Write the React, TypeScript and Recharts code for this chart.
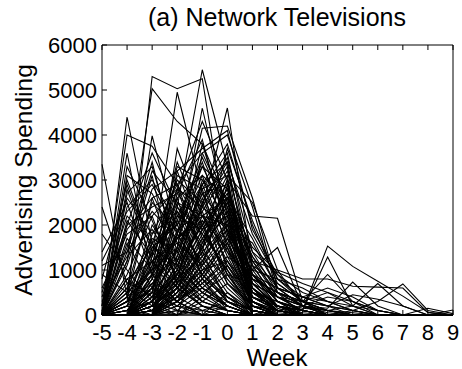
import { LineChart, Line, XAxis, YAxis } from 'recharts';

// week index runs -5 .. 9
const weeks = [-5, -4, -3, -2, -1, 0, 1, 2, 3, 4, 5, 6, 7, 8, 9];
const yTicks = [0, 1000, 2000, 3000, 4000, 5000, 6000];

// the tall outliers
const highPeaks = [
    [0, 300, 5300, 5030, 5250, 1800, 400, 100, 0, 0, 0, 0, 0, 0, 0],
    [0, 0, 900, 2400, 5450, 3300, 900, 200, 50, 0, 0, 0, 0, 0, 0],
    [0, 1200, 5030, 4300, 3800, 2500, 700, 150, 0, 0, 0, 0, 0, 0, 0],
    [0, 0, 1300, 4950, 2700, 1400, 300, 50, 0, 0, 0, 0, 0, 0, 0],
    [0, 4400, 1600, 700, 300, 100, 0, 0, 0, 0, 0, 0, 0, 0, 0],
    [200, 4000, 3750, 2900, 1900, 900, 200, 0, 0, 0, 0, 0, 0, 0, 0],
    [0, 500, 3980, 1800, 900, 400, 100, 0, 0, 0, 0, 0, 0, 0, 0],
    [3350, 400, 100, 0, 0, 0, 0, 0, 0, 0, 0, 0, 0, 0, 0],
    [0, 0, 300, 1500, 4600, 2200, 500, 100, 0, 0, 0, 0, 0, 0, 0],
    [0, 0, 200, 900, 2400, 4600, 1100, 300, 100, 0, 0, 0, 0, 0, 0],
    [0, 100, 600, 1800, 4150, 4200, 2600, 600, 200, 0, 0, 0, 0, 0, 0],
    [0, 0, 0, 700, 3600, 4000, 2400, 500, 0, 0, 0, 0, 0, 0, 0],
    [0, 300, 1400, 2800, 4300, 3000, 600, 0, 0, 0, 0, 0, 0, 0, 0],
    [0, 0, 500, 3200, 3700, 4100, 1900, 900, 300, 0, 0, 0, 0, 0, 0],
];

// lines that still spend after launch week
const lateTails = [
    [0, 0, 200, 800, 1500, 3000, 2200, 2150, 300, 100, 0, 0, 0, 0, 0],
    [0, 0, 0, 300, 900, 1800, 1000, 1500, 200, 0, 0, 0, 0, 0, 0],
    [0, 0, 200, 600, 1200, 2100, 500, 300, 100, 1530, 1080, 750, 420, 60, 0],
    [0, 0, 100, 400, 900, 1600, 600, 200, 100, 1290, 200, 0, 0, 0, 0],
    [0, 0, 300, 900, 1700, 2400, 1200, 1000, 800, 800, 640, 620, 600, 50, 0],
    [0, 0, 0, 500, 1300, 1900, 700, 400, 200, 150, 730, 200, 0, 0, 0],
    [0, 0, 100, 300, 800, 1500, 500, 300, 150, 100, 200, 700, 200, 0, 0],
    [0, 0, 0, 200, 600, 1100, 400, 200, 100, 0, 100, 300, 690, 100, 0],
    [0, 0, 200, 700, 1400, 2000, 800, 500, 300, 900, 300, 0, 0, 0, 0],
    [0, 0, 0, 300, 700, 1200, 300, 100, 0, 0, 0, 0, 0, 150, 30],
    [0, 0, 100, 500, 1000, 1600, 400, 200, 100, 0, 0, 0, 0, 0, 110],
    [0, 0, 300, 900, 1900, 2600, 1500, 950, 700, 500, 300, 100, 0, 0, 0],
    [0, 0, 0, 400, 1100, 1700, 800, 500, 300, 200, 450, 350, 200, 0, 0],
    [0, 0, 100, 600, 1500, 2300, 900, 600, 400, 600, 400, 100, 0, 0, 0],
];

// peak three or four weeks before launch
const earlyBulk = [
    [0, 2800, 1200, 400, 100, 0, 0, 0, 0, 0, 0, 0, 0, 0, 0],
    [0, 3300, 2100, 800, 300, 100, 0, 0, 0, 0, 0, 0, 0, 0, 0],
    [0, 1900, 2600, 1100, 500, 200, 0, 0, 0, 0, 0, 0, 0, 0, 0],
    [0, 2400, 3000, 2000, 900, 300, 100, 0, 0, 0, 0, 0, 0, 0, 0],
    [100, 1500, 3400, 1200, 600, 200, 0, 0, 0, 0, 0, 0, 0, 0, 0],
    [0, 900, 2200, 2800, 1300, 500, 100, 0, 0, 0, 0, 0, 0, 0, 0],
    [0, 3600, 800, 300, 0, 0, 0, 0, 0, 0, 0, 0, 0, 0, 0],
    [500, 2200, 1600, 900, 400, 100, 0, 0, 0, 0, 0, 0, 0, 0, 0],
    [0, 1200, 3100, 600, 200, 0, 0, 0, 0, 0, 0, 0, 0, 0, 0],
    [0, 2600, 1800, 2300, 1000, 300, 0, 0, 0, 0, 0, 0, 0, 0, 0],
    [1800, 1000, 300, 100, 0, 0, 0, 0, 0, 0, 0, 0, 0, 0, 0],
    [800, 2900, 1400, 600, 200, 0, 0, 0, 0, 0, 0, 0, 0, 0, 0],
    [0, 1700, 1000, 1500, 700, 200, 0, 0, 0, 0, 0, 0, 0, 0, 0],
    [0, 3100, 2700, 1600, 800, 200, 0, 0, 0, 0, 0, 0, 0, 0, 0],
    [0, 600, 2500, 1900, 1200, 400, 100, 0, 0, 0, 0, 0, 0, 0, 0],
    [0, 2000, 3600, 2400, 1500, 600, 100, 0, 0, 0, 0, 0, 0, 0, 0],
    [1100, 1400, 2300, 1700, 2100, 700, 200, 0, 0, 0, 0, 0, 0, 0, 0],
];

// more early starters, some already spending at week -5
const earlyStarters = [
    [1400, 2500, 900, 300, 0, 0, 0, 0, 0, 0, 0, 0, 0, 0, 0],
    [600, 1800, 2200, 700, 200, 0, 0, 0, 0, 0, 0, 0, 0, 0, 0],
    [0, 2100, 1300, 2600, 800, 100, 0, 0, 0, 0, 0, 0, 0, 0, 0],
    [2400, 700, 500, 200, 0, 0, 0, 0, 0, 0, 0, 0, 0, 0, 0],
    [300, 1300, 1900, 1000, 300, 100, 0, 0, 0, 0, 0, 0, 0, 0, 0],
    [0, 2700, 3300, 1400, 600, 200, 0, 0, 0, 0, 0, 0, 0, 0, 0],
    [900, 500, 1600, 2100, 1100, 400, 0, 0, 0, 0, 0, 0, 0, 0, 0],
    [0, 1100, 2800, 3200, 1700, 700, 100, 0, 0, 0, 0, 0, 0, 0, 0],
    [200, 3000, 1500, 1100, 500, 100, 0, 0, 0, 0, 0, 0, 0, 0, 0],
    [0, 800, 1200, 600, 1400, 300, 0, 0, 0, 0, 0, 0, 0, 0, 0],
    [1200, 2300, 2900, 1800, 900, 300, 0, 0, 0, 0, 0, 0, 0, 0, 0],
    [0, 1600, 600, 1700, 2300, 900, 100, 0, 0, 0, 0, 0, 0, 0, 0],
    [400, 2000, 2400, 2700, 2000, 800, 200, 0, 0, 0, 0, 0, 0, 0, 0],
    [0, 1400, 3200, 2500, 1800, 1000, 300, 0, 0, 0, 0, 0, 0, 0, 0],
];

// peak one or two weeks before launch
const midBulk = [
    [0, 200, 1100, 3400, 2000, 900, 200, 0, 0, 0, 0, 0, 0, 0, 0],
    [0, 0, 800, 2600, 3100, 1500, 300, 100, 0, 0, 0, 0, 0, 0, 0],
    [0, 400, 1600, 3000, 2500, 1100, 200, 0, 0, 0, 0, 0, 0, 0, 0],
    [0, 0, 300, 2100, 3500, 2300, 400, 100, 0, 0, 0, 0, 0, 0, 0],
    [0, 100, 900, 1700, 2900, 1600, 300, 0, 0, 0, 0, 0, 0, 0, 0],
    [0, 0, 0, 2400, 1800, 1000, 200, 0, 0, 0, 0, 0, 0, 0, 0],
    [0, 0, 1400, 2200, 3300, 2800, 800, 200, 0, 0, 0, 0, 0, 0, 0],
    [0, 300, 700, 1300, 2700, 1900, 500, 100, 0, 0, 0, 0, 0, 0, 0],
    [0, 0, 200, 3700, 2200, 1200, 300, 0, 0, 0, 0, 0, 0, 0, 0],
    [0, 0, 600, 1500, 3800, 2000, 600, 100, 0, 0, 0, 0, 0, 0, 0],
    [0, 500, 1000, 2500, 2200, 2600, 700, 200, 0, 0, 0, 0, 0, 0, 0],
    [0, 0, 100, 1000, 3000, 2400, 900, 300, 100, 0, 0, 0, 0, 0, 0],
    [0, 0, 1800, 2900, 1400, 800, 100, 0, 0, 0, 0, 0, 0, 0, 0],
    [0, 200, 2000, 1200, 2600, 1300, 300, 0, 0, 0, 0, 0, 0, 0, 0],
    [0, 0, 400, 1900, 2300, 3200, 1200, 400, 100, 0, 0, 0, 0, 0, 0],
    [0, 0, 0, 1200, 2000, 2700, 600, 200, 0, 0, 0, 0, 0, 0, 0],
    [0, 700, 1500, 2000, 3400, 1700, 200, 0, 0, 0, 0, 0, 0, 0, 0],
    [0, 0, 900, 3100, 2800, 1000, 0, 0, 0, 0, 0, 0, 0, 0, 0],
    [0, 100, 300, 800, 1900, 2200, 300, 0, 0, 0, 0, 0, 0, 0, 0],
    [0, 0, 500, 2700, 3900, 1800, 400, 100, 0, 0, 0, 0, 0, 0, 0],
    [0, 0, 0, 500, 2500, 3500, 1400, 500, 200, 0, 0, 0, 0, 0, 0],
    [0, 300, 1200, 1600, 1100, 2900, 500, 100, 0, 0, 0, 0, 0, 0, 0],
    [0, 0, 200, 600, 1400, 3700, 2100, 800, 300, 100, 0, 0, 0, 0, 0],
    [0, 0, 700, 1400, 2800, 3600, 1000, 300, 0, 0, 0, 0, 0, 0, 0],
    [0, 0, 0, 300, 1200, 2000, 1600, 600, 200, 50, 0, 0, 0, 0, 0],
    [0, 200, 600, 2300, 1600, 3000, 0, 0, 0, 0, 0, 0, 0, 0, 0],
    [0, 0, 300, 1100, 2400, 3300, 100, 0, 0, 0, 0, 0, 0, 0, 0],
    [0, 100, 800, 1800, 3100, 2600, 0, 0, 0, 0, 0, 0, 0, 0, 0],
    [0, 0, 0, 1500, 2700, 2900, 200, 100, 0, 0, 0, 0, 0, 0, 0],
    [0, 0, 400, 900, 2100, 1500, 0, 0, 0, 0, 0, 0, 0, 0, 0],
    [0, 0, 0, 0, 1600, 2500, 1300, 400, 100, 0, 0, 0, 0, 0, 0],
    [0, 0, 0, 200, 800, 1700, 900, 300, 100, 0, 0, 0, 0, 0, 0],
    [0, 0, 100, 400, 1000, 1200, 500, 200, 100, 0, 0, 0, 0, 0, 0],
    [0, 0, 0, 100, 500, 900, 700, 400, 200, 100, 50, 0, 0, 0, 0],
    [0, 0, 1100, 3300, 3000, 2100, 600, 100, 0, 0, 0, 0, 0, 0, 0],
    [0, 400, 2600, 2900, 3600, 2400, 300, 0, 0, 0, 0, 0, 0, 0, 0],
    [0, 0, 1500, 2000, 2900, 3400, 700, 200, 0, 0, 0, 0, 0, 0, 0],
    [0, 300, 1000, 2800, 2400, 1900, 100, 0, 0, 0, 0, 0, 0, 0, 0],
    [0, 0, 0, 1800, 3300, 2200, 900, 200, 0, 0, 0, 0, 0, 0, 0],
    [0, 600, 1700, 1400, 2800, 3100, 0, 0, 0, 0, 0, 0, 0, 0, 0],
    [0, 0, 500, 2200, 1900, 2800, 1100, 300, 0, 0, 0, 0, 0, 0, 0],
    [0, 0, 1200, 1700, 2200, 2000, 400, 100, 0, 0, 0, 0, 0, 0, 0],
];

// small spenders near the floor
const lowBulk = [
    [0, 300, 500, 200, 100, 300, 100, 0, 0, 0, 0, 0, 0, 0, 0],
    [0, 0, 100, 400, 600, 300, 100, 0, 0, 0, 0, 0, 0, 0, 0],
    [0, 100, 0, 0, 300, 700, 200, 100, 0, 0, 0, 0, 0, 0, 0],
    [0, 600, 200, 0, 100, 0, 0, 0, 0, 0, 0, 0, 0, 0, 0],
    [0, 0, 700, 100, 0, 500, 0, 0, 0, 0, 0, 0, 0, 0, 0],
    [0, 0, 0, 600, 200, 100, 0, 0, 0, 0, 0, 0, 0, 0, 0],
    [0, 400, 900, 300, 0, 0, 0, 0, 0, 0, 0, 0, 0, 0, 0],
    [0, 0, 0, 0, 400, 1100, 300, 0, 0, 0, 0, 0, 0, 0, 0],
    [0, 200, 0, 100, 0, 200, 0, 100, 200, 100, 0, 0, 0, 0, 0],
    [0, 0, 300, 0, 200, 0, 0, 200, 100, 0, 0, 0, 0, 0, 0],
    [0, 800, 400, 1000, 500, 200, 0, 0, 0, 0, 0, 0, 0, 0, 0],
    [0, 0, 600, 300, 800, 400, 100, 0, 0, 0, 0, 0, 0, 0, 0],
];

// slower decay through weeks 1 - 5
const decayBulk = [
    [0, 0, 500, 1200, 2500, 3400, 1800, 800, 400, 200, 0, 0, 0, 0, 0],
    [0, 0, 200, 700, 1800, 2800, 1400, 900, 500, 300, 100, 0, 0, 0, 0],
    [0, 0, 0, 400, 1500, 2300, 1100, 700, 300, 100, 0, 0, 0, 0, 0],
    [0, 100, 300, 1000, 2000, 3100, 2500, 1000, 200, 0, 0, 0, 0, 0, 0],
    [0, 0, 100, 800, 1300, 2600, 1700, 600, 400, 200, 100, 0, 0, 0, 0],
    [0, 0, 0, 500, 1100, 1900, 1000, 800, 600, 300, 100, 0, 0, 0, 0],
    [0, 0, 200, 900, 2200, 1400, 800, 500, 300, 500, 200, 0, 0, 0, 0],
    [0, 0, 0, 300, 700, 1300, 900, 400, 200, 400, 300, 100, 0, 0, 0],
    [0, 0, 400, 1300, 2900, 3800, 2000, 700, 300, 0, 0, 0, 0, 0, 0],
    [0, 0, 0, 600, 1700, 2500, 1300, 600, 400, 300, 200, 100, 0, 0, 0],
    [0, 0, 300, 1100, 2000, 2700, 1200, 500, 200, 100, 0, 0, 0, 0, 0],
    [0, 0, 0, 800, 1600, 2200, 900, 400, 300, 200, 100, 0, 0, 0, 0],
];

const series = [
    ...highPeaks,
    ...lateTails,
    ...earlyBulk,
    ...earlyStarters,
    ...midBulk,
    ...lowBulk,
    ...decayBulk,
];

const chartData = weeks.map((week, i) => {
    const row: Record<string, number> = { week };
    series.forEach((s, j) => {
        row['s' + j] = s[i];
    });
    return row;
});

const font = '"Liberation Sans", Arial, Helvetica, sans-serif';
const tickStyle = { fill: '#000', fontSize: 22, fontFamily: font };

export default function App() {
    return (
        <div style={{ position: 'absolute', left: 0, top: 0, width: 462, height: 369, background: '#fff' }}>
            <LineChart width={462} height={369} data={chartData} margin={{ top: 0, right: 0, bottom: 0, left: 0 }}>
                <XAxis
                    dataKey="week"
                    type="number"
                    domain={[-5, 9]}
                    ticks={weeks}
                    interval={0}
                    height={54}
                    stroke="#000"
                    tickSize={-5}
                    tickMargin={14}
                    tick={tickStyle}
                />
                <XAxis
                    xAxisId="top"
                    orientation="top"
                    dataKey="week"
                    type="number"
                    domain={[-5, 9]}
                    ticks={weeks}
                    interval={0}
                    height={45}
                    stroke="#000"
                    tickSize={-5}
                    tickFormatter={() => ''}
                />
                <YAxis
                    type="number"
                    domain={[0, 6000]}
                    ticks={yTicks}
                    interval={0}
                    width={102}
                    stroke="#000"
                    tickSize={-5}
                    tickMargin={10}
                    tick={tickStyle}
                />
                <YAxis
                    yAxisId="right"
                    orientation="right"
                    type="number"
                    domain={[0, 6000]}
                    ticks={yTicks}
                    interval={0}
                    width={9}
                    stroke="#000"
                    tickSize={-5}
                    tickFormatter={() => ''}
                />
                {series.map((_, j) => (
                    <Line
                        key={j}
                        type="linear"
                        dataKey={'s' + j}
                        stroke="#000"
                        strokeWidth={1.1}
                        dot={false}
                        activeDot={false}
                        isAnimationActive={false}
                    />
                ))}
            </LineChart>
            <svg width={462} height={369} style={{ position: 'absolute', left: 0, top: 0, pointerEvents: 'none' }}>
                <text x={277} y={26} textAnchor="middle" fontSize={25} fontFamily={font} fill="#000">
                    (a) Network Televisions
                </text>
                <text x={277} y={366} textAnchor="middle" fontSize={24} fontFamily={font} fill="#000">
                    Week
                </text>
                <text
                    transform="translate(32,180) rotate(-90)"
                    textAnchor="middle"
                    fontSize={24.5}
                    fontFamily={font}
                    fill="#000"
                >
                    Advertising Spending
                </text>
            </svg>
        </div>
    );
}
